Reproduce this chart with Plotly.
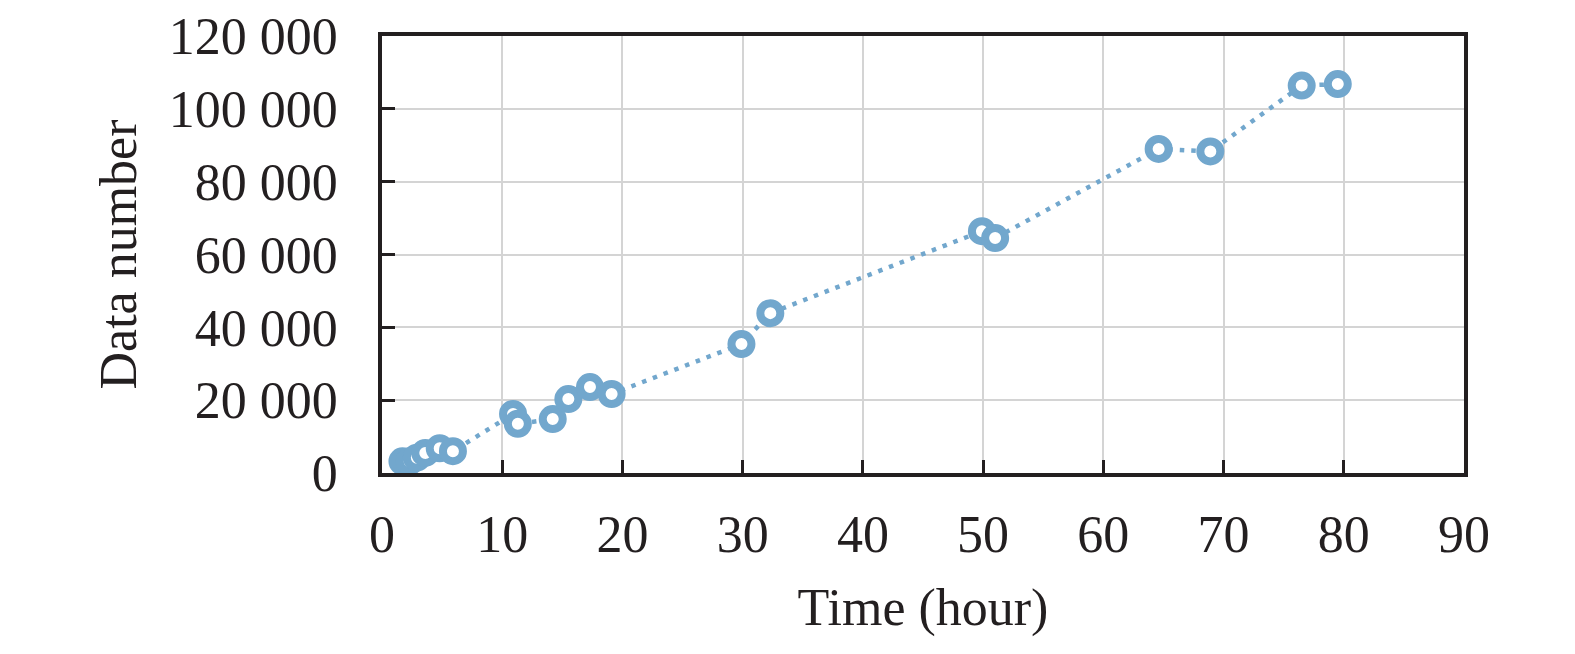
import plotly.graph_objects as go

time_hour = [1.7, 2.3, 2.9, 3.6, 4.8, 5.9, 10.9, 11.3, 14.2, 15.5, 17.3, 19.1,
             29.9, 32.3, 49.9, 51.0, 64.6, 68.9, 76.5, 79.5]
data_number = [3200, 3200, 4200, 5500, 6800, 6000, 16200, 13500, 14800, 20300, 23600, 21700,
               35400, 43900, 66400, 64500, 89000, 88300, 106400, 106800]

x_ticks = [0, 10, 20, 30, 40, 50, 60, 70, 80, 90]
y_ticks = [0, 20000, 40000, 60000, 80000, 100000, 120000]
y_ticktext = ["0", "20 000", "40 000", "60 000", "80 000", "100 000", "120 000"]

color = "rgb(114,167,205)"
axis_color = "#231f20"
font = "Liberation Serif"
fs = 52

fig = go.Figure()
fig.add_trace(go.Scatter(
    x=time_hour, y=data_number, mode="lines",
    line=dict(color=color, width=4.5, dash="4.5px,7px"),
    showlegend=False, hoverinfo="skip",
))
fig.add_trace(go.Scatter(
    x=time_hour, y=data_number, mode="markers",
    marker=dict(symbol="circle", size=20, color="white", line=dict(width=8, color=color)),
    showlegend=False, cliponaxis=False,
))

fig.update_layout(
    width=1575, height=654,
    margin=dict(l=374, r=119, t=28, b=189, autoexpand=False),
    paper_bgcolor="white", plot_bgcolor="white",
    font=dict(family=font, size=fs, color="#231f20"),
    xaxis=dict(
        range=[0, 90], tickvals=x_ticks, ticks="inside", ticklen=13, tickwidth=3,
        tickcolor=axis_color, showline=True, linecolor=axis_color, linewidth=3.5, mirror=True,
        showgrid=True, gridcolor="#d4d4d4", gridwidth=2, zeroline=False, automargin=False,
        ticklabelstandoff=13,
        title=dict(text="Time (hour)", font=dict(family=font, size=fs), standoff=27),
        tickfont=dict(family=font, size=fs),
    ),
    yaxis=dict(
        range=[0, 120000], tickvals=y_ticks, ticktext=y_ticktext, ticks="inside", ticklen=13,
        tickwidth=3, tickcolor=axis_color, showline=True, linecolor=axis_color, linewidth=3.5,
        mirror=True, showgrid=True, gridcolor="#d4d4d4", gridwidth=2, zeroline=False,
        automargin=False, ticklabelstandoff=30,
        title=dict(text="Data number", font=dict(family=font, size=fs), standoff=17),
        tickfont=dict(family=font, size=fs),
    ),
)

fig.write_html("out.html")
